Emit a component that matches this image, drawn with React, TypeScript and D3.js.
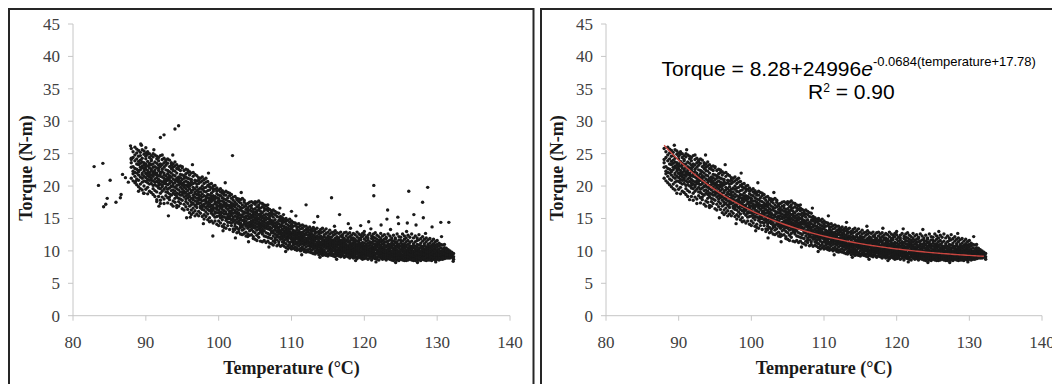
import React from "react";
import * as d3 from "d3";

// ---- Data ----
const xTicks = [80, 90, 100, 110, 120, 130, 140];
const yTicks = [0, 5, 10, 15, 20, 25, 30, 35, 40, 45];

// Fit shown on the right panel: Torque = a + b * e^(c (T + d))
const fitCoef = [8.28, 24996, -0.0684, 17.78];
const fitRange = [88, 132.2];

// Dense band of measurements: [temperature, torque, torque, ...]
const bandRows88: number[][] = [
  [88, 24.1, 21.2, 25.8, 22.9, 23.6],
  [88.25, 20.8, 24.4, 22.3, 25.3, 23.0, 21.9],
  [88.5, 23.9, 22.1, 26.0, 20.5, 24.8, 22.7, 21.5],
  [88.75, 21.1, 25.1, 23.4, 22.0, 24.2, 20.2, 22.6, 25.7],
  [89, 22.4, 24.6, 20.9, 23.3, 25.5, 21.7, 19.9, 23.8, 22.2],
  [89.25, 24.0, 21.4, 22.9, 25.2, 20.3, 23.5, 22.5, 19.6, 24.7],
  [89.5, 21.8, 23.1, 25.6, 22.0, 20.6, 24.3, 23.7, 21.2, 19.4, 22.8],
  [89.75, 23.6, 20.0, 22.3, 24.9, 21.5, 25.4, 22.7, 20.8, 23.2, 18.9],
  [90, 22.0, 24.2, 19.5, 23.4, 21.3, 25.1, 20.7, 22.6, 24.6, 21.9, 23.0],
  [90.25, 21.0, 23.8, 22.4, 19.8, 24.9, 20.5, 23.1, 22.0, 25.3, 21.6, 18.8],
  [90.5, 23.5, 21.4, 19.2, 22.8, 24.4, 20.3, 22.1, 25.0, 21.8, 23.2, 20.9],
  [90.75, 20.4, 22.6, 24.7, 21.2, 23.9, 19.0, 22.3, 20.9, 24.1, 21.7, 23.3],
  [91, 22.9, 20.1, 21.5, 24.5, 19.6, 23.4, 22.2, 18.7, 20.8, 25.0, 21.9],
  [91.25, 21.1, 23.7, 19.3, 22.5, 20.6, 24.8, 21.8, 18.4, 23.0, 22.1, 20.2],
  [91.5, 20.0, 22.8, 21.3, 24.2, 19.1, 23.5, 20.7, 22.0, 17.9, 24.6, 21.7],
  [91.75, 22.4, 19.7, 21.0, 23.9, 20.5, 18.4, 22.7, 24.4, 21.6, 20.1, 23.2],
  [92, 21.5, 18.9, 23.4, 20.3, 22.1, 24.7, 19.6, 21.9, 17.8, 23.0, 20.8],
  [92.25, 19.9, 22.6, 20.6, 24.1, 18.3, 21.4, 23.3, 20.1, 22.2, 24.8, 19.2],
  [92.5, 22.0, 20.4, 18.0, 23.6, 21.2, 19.5, 22.9, 24.3, 20.8, 17.3, 21.7],
  [92.75, 21.0, 23.2, 19.1, 20.3, 22.5, 18.5, 24.0, 21.6, 19.8, 23.7, 20.7],
  [93, 19.5, 21.9, 20.9, 23.5, 18.2, 22.4, 20.2, 17.4, 21.3, 24.2, 19.0],
  [93.25, 21.6, 18.8, 20.4, 23.0, 19.7, 22.2, 17.9, 24.0, 20.9, 21.3, 18.3],
  [93.5, 20.0, 22.7, 18.6, 21.4, 19.3, 23.6, 20.7, 17.2, 22.0, 19.9, 23.2],
  [93.75, 21.1, 19.4, 22.4, 17.7, 20.4, 23.4, 18.9, 21.7, 20.0, 16.9, 22.9],
  [94, 19.2, 21.6, 20.5, 18.1, 23.1, 19.8, 22.3, 17.5, 20.9, 23.7, 18.7],
  [94.25, 20.8, 18.4, 22.0, 19.6, 21.2, 17.0, 23.3, 20.1, 18.9, 22.7, 16.7],
  [94.5, 18.8, 21.4, 20.2, 22.6, 17.6, 19.4, 23.0, 21.0, 18.1, 20.6, 16.9],
  [94.75, 20.3, 18.0, 21.8, 19.1, 22.4, 17.3, 20.7, 23.1, 18.6, 19.8, 21.3],
  [95, 19.0, 21.0, 17.8, 20.4, 22.8, 18.6, 16.5, 21.7, 19.5, 20.1, 23.0],
  [95.25, 20.6, 18.3, 19.8, 21.6, 17.2, 22.4, 18.9, 20.2, 16.3, 21.2, 19.2],
  [95.5, 18.5, 20.1, 21.9, 17.6, 19.6, 22.6, 18.0, 20.8, 16.8, 19.0, 21.4],
  [95.75, 19.9, 17.3, 20.6, 18.7, 22.1, 16.4, 19.3, 21.2, 18.2, 20.2, 22.5],
  [96, 18.4, 20.4, 16.9, 19.6, 21.7, 17.8, 20.0, 15.9, 22.2, 18.9, 21.1],
  [96.25, 19.3, 17.5, 21.0, 18.1, 20.2, 16.3, 22.0, 19.0, 17.1, 20.7, 15.6],
  [96.5, 17.9, 19.8, 18.6, 21.5, 16.6, 20.4, 18.2, 22.1, 17.3, 19.4, 15.9],
  [96.75, 19.0, 17.0, 20.5, 18.3, 21.8, 16.2, 19.6, 17.7, 20.9, 15.4, 18.8],
  [97, 18.1, 19.9, 16.7, 20.8, 17.6, 19.3, 21.6, 15.7, 18.7, 17.2, 20.3],
  [97.25, 19.5, 17.3, 18.6, 20.4, 16.1, 21.3, 17.8, 19.0, 15.4, 20.9, 18.2],
  [97.5, 17.4, 19.1, 20.6, 16.6, 18.5, 21.2, 17.9, 19.7, 15.8, 18.0, 16.9],
  [97.75, 18.8, 16.4, 19.5, 17.7, 20.8, 15.3, 18.3, 20.0, 17.1, 21.4, 16.8],
  [98, 17.2, 19.2, 16.3, 18.5, 20.4, 15.6, 17.8, 19.7, 16.9, 14.9, 21.0],
  [98.25, 18.4, 16.7, 19.8, 17.4, 15.3, 20.6, 18.0, 16.0, 19.1, 17.7, 21.2],
  [98.5, 16.9, 18.7, 17.5, 20.1, 15.7, 19.3, 16.4, 18.2, 14.8, 20.7, 17.1],
  [98.75, 18.1, 16.2, 19.4, 17.3, 20.3, 15.1, 18.6, 16.8, 19.9, 14.5, 17.8],
  [99, 17.0, 18.9, 15.8, 18.0, 19.7, 16.5, 17.6, 14.6, 20.4, 16.1, 18.4],
  [99.25, 17.9, 16.3, 19.2, 15.5, 18.5, 17.1, 20.0, 16.7, 14.3, 18.1, 19.6],
  [99.5, 16.6, 18.4, 17.3, 15.2, 19.5, 16.0, 18.0, 20.1, 14.6, 17.6, 15.8],
  [99.75, 17.5, 15.9, 18.8, 16.4, 14.1, 19.7, 17.0, 15.3, 18.2, 16.7, 19.2],
];

const bandRows100: number[][] = [
  [100, 16.3, 18.1, 15.4, 17.4, 19.4, 14.6, 16.9, 18.6, 15.9, 13.9, 17.8],
  [100.25, 17.2, 15.6, 18.5, 16.6, 14.3, 19.1, 16.0, 17.7, 15.1, 19.6, 16.9],
  [100.5, 15.9, 17.7, 16.4, 18.9, 14.8, 17.1, 15.3, 19.3, 13.8, 16.8, 18.2],
  [100.75, 16.9, 15.2, 18.0, 16.2, 14.1, 17.5, 19.0, 15.7, 17.2, 13.6, 18.6],
  [101, 15.7, 17.3, 16.6, 14.7, 18.6, 15.1, 17.9, 16.0, 19.2, 13.5, 16.9],
  [101.25, 16.4, 14.9, 17.7, 15.6, 18.2, 13.9, 16.9, 15.2, 19.0, 17.1, 14.4],
  [101.5, 15.3, 17.0, 16.1, 18.5, 14.4, 16.6, 15.0, 17.6, 13.3, 18.9, 15.8],
  [101.75, 16.7, 14.8, 17.4, 15.5, 13.9, 18.1, 16.2, 14.3, 17.0, 15.9, 18.7],
  [102, 15.2, 16.9, 14.5, 17.8, 15.8, 13.4, 16.4, 18.3, 14.9, 17.2, 13.0],
  [102.25, 16.2, 14.7, 17.5, 15.4, 13.8, 16.8, 18.4, 14.2, 15.9, 17.1, 13.3],
  [102.5, 14.9, 16.5, 15.7, 17.9, 13.6, 16.0, 14.4, 18.1, 15.2, 12.8, 17.2],
  [102.75, 15.8, 14.2, 16.9, 15.1, 17.6, 13.3, 16.3, 14.6, 18.0, 15.5, 12.9],
  [103, 14.8, 16.3, 15.5, 13.6, 17.4, 14.3, 16.7, 15.0, 12.6, 17.9, 13.9],
  [103.25, 15.6, 14.0, 16.6, 14.7, 13.2, 17.1, 15.3, 18.1, 13.7, 16.1, 12.5],
  [103.5, 14.5, 16.0, 15.2, 17.5, 13.4, 15.8, 14.1, 16.8, 12.7, 17.8, 14.8],
  [103.75, 15.4, 13.8, 16.4, 14.6, 17.2, 12.9, 15.9, 14.2, 16.9, 12.3, 15.1],
  [104, 14.3, 15.8, 13.5, 16.6, 14.9, 12.6, 17.3, 15.4, 13.9, 16.2, 12.2],
  [104.25, 15.2, 13.7, 16.3, 14.4, 17.5, 13.1, 15.7, 14.0, 16.9, 12.4, 15.0],
  [104.5, 14.6, 16.1, 13.3, 15.5, 17.0, 14.2, 12.5, 16.6, 13.8, 15.1, 17.6],
  [104.75, 14.0, 15.7, 13.0, 16.4, 14.8, 12.2, 15.3, 17.4, 13.6, 16.0, 14.4, 11.9],
  [105, 15.1, 13.5, 16.5, 14.3, 12.8, 17.2, 15.6, 13.9, 16.0, 11.8, 14.7, 17.6],
  [105.25, 14.2, 15.8, 13.2, 16.8, 14.9, 12.4, 15.3, 17.5, 13.7, 16.2, 11.6, 14.6],
  [105.5, 15.0, 13.4, 16.3, 14.5, 12.1, 17.1, 15.6, 13.8, 16.7, 14.1, 17.7, 12.7],
  [105.75, 14.3, 15.7, 12.9, 16.1, 13.6, 17.4, 14.8, 11.5, 15.3, 13.2, 16.6, 14.0],
  [106, 13.8, 15.4, 14.6, 12.6, 16.8, 13.3, 15.9, 11.4, 14.2, 17.3, 15.1, 12.9],
  [106.25, 14.7, 13.1, 16.2, 14.0, 15.5, 12.3, 17.1, 13.6, 11.6, 15.0, 16.6, 14.4],
  [106.5, 13.5, 15.2, 14.3, 12.8, 16.4, 13.9, 11.3, 17.0, 15.7, 12.2, 14.8, 16.9],
  [106.75, 14.4, 12.7, 15.6, 13.4, 16.6, 14.1, 11.5, 15.0, 12.1, 16.2, 13.8, 17.1],
  [107, 13.3, 14.9, 12.5, 15.8, 14.2, 11.2, 16.4, 13.7, 15.3, 12.0, 14.6],
  [107.25, 14.1, 12.8, 15.5, 13.5, 16.2, 11.9, 14.7, 13.0, 11.1, 15.9, 14.4],
  [107.5, 13.1, 14.6, 12.3, 15.2, 13.8, 16.3, 11.5, 14.2, 12.8, 15.7, 10.9],
  [107.75, 13.9, 12.6, 14.8, 13.2, 11.3, 15.6, 14.3, 12.0, 16.1, 13.6, 11.7],
  [108, 12.9, 14.4, 13.6, 11.7, 15.3, 12.4, 14.0, 10.8, 15.9, 13.1, 12.2],
  [108.25, 13.6, 12.1, 14.7, 12.9, 11.4, 15.2, 13.3, 11.0, 14.2, 12.6, 15.8],
  [108.5, 12.6, 14.0, 13.1, 15.3, 11.8, 13.7, 12.2, 14.6, 10.7, 12.9, 15.0],
  [108.75, 13.4, 11.9, 14.3, 12.7, 10.9, 13.9, 12.3, 15.1, 11.4, 13.2, 14.7],
  [109, 12.4, 13.8, 11.6, 14.5, 13.0, 10.7, 12.1, 14.9, 13.5, 11.2, 12.8],
  [109.25, 13.2, 11.8, 12.6, 14.2, 11.1, 13.6, 12.2, 15.0, 10.5, 13.0, 14.6],
  [109.5, 12.2, 13.5, 11.5, 14.0, 12.8, 10.8, 13.1, 14.7, 11.9, 12.5, 10.3],
  [109.75, 12.9, 11.3, 13.8, 12.4, 11.0, 14.4, 12.0, 13.3, 10.5, 12.7, 14.9],
];

const bandRows110: number[][] = [
  [110, 12.1, 13.4, 11.4, 12.8, 14.1, 10.7, 12.5, 11.8, 13.7, 10.3, 14.6],
  [110.25, 12.7, 11.2, 13.2, 12.0, 14.4, 10.9, 12.4, 11.6, 13.8, 10.4, 12.9],
  [110.5, 11.8, 13.0, 12.5, 11.1, 13.9, 10.6, 12.2, 14.3, 11.5, 12.8, 10.2],
  [110.75, 12.5, 11.3, 13.3, 11.9, 10.5, 12.8, 14.1, 11.0, 12.2, 13.6, 10.1],
  [111, 11.6, 12.9, 12.2, 10.8, 13.7, 11.3, 12.6, 10.2, 14.2, 11.9, 13.1],
  [111.25, 12.3, 11.0, 13.4, 11.7, 12.8, 10.4, 11.4, 13.9, 12.0, 10.0, 12.6],
  [111.5, 11.5, 12.7, 11.9, 13.5, 10.6, 12.3, 11.1, 14.0, 10.2, 12.9, 11.7],
  [111.75, 12.1, 10.9, 13.1, 11.6, 12.6, 10.3, 13.8, 11.3, 9.9, 12.4, 11.0],
  [112, 11.4, 12.5, 11.9, 10.6, 13.3, 11.1, 12.8, 10.1, 13.8, 11.6, 9.8],
  [112.25, 12.0, 10.8, 12.9, 11.5, 10.2, 13.5, 11.2, 12.4, 9.9, 11.8, 13.1],
  [112.5, 11.3, 12.4, 10.7, 11.8, 13.2, 10.3, 12.1, 11.0, 13.7, 9.8, 12.7],
  [112.75, 11.9, 10.6, 12.6, 11.3, 13.4, 10.1, 11.6, 12.2, 9.7, 13.0, 10.9],
  [113, 11.2, 12.4, 10.3, 11.7, 13.1, 10.9, 9.6, 12.0, 11.4, 13.6, 10.6],
  [113.25, 10.8, 12.7, 11.5, 9.9, 12.2, 11.0, 13.3, 10.4, 11.8, 9.5, 12.9],
  [113.5, 12.0, 10.1, 11.3, 12.9, 10.7, 9.7, 11.9, 13.5, 10.5, 11.1, 12.3],
  [113.75, 11.6, 9.8, 12.6, 10.9, 11.2, 13.0, 10.2, 12.1, 9.4, 11.4, 10.6],
  [114, 10.5, 11.9, 12.8, 9.9, 11.3, 10.8, 13.3, 9.5, 12.3, 11.0, 10.2],
  [114.25, 12.1, 10.7, 11.5, 9.6, 12.9, 10.3, 11.8, 10.0, 13.5, 11.1, 9.3],
  [114.5, 11.0, 12.5, 10.1, 11.7, 9.8, 12.2, 10.6, 13.1, 11.3, 9.4, 10.8],
  [114.75, 10.4, 11.4, 12.7, 9.7, 10.9, 12.0, 11.2, 9.3, 13.4, 10.6, 11.8],
  [115, 11.6, 10.0, 12.3, 10.7, 9.5, 11.2, 12.9, 10.4, 9.2, 11.9, 10.9],
  [115.25, 10.2, 11.8, 9.7, 12.6, 11.0, 10.5, 13.2, 9.4, 11.4, 10.8, 12.1],
  [115.5, 11.3, 9.9, 10.7, 12.1, 9.3, 11.6, 10.3, 12.8, 11.0, 9.6, 10.1],
  [115.75, 10.6, 12.4, 11.1, 9.5, 10.0, 11.7, 9.2, 12.9, 10.4, 11.3, 10.8],
  [116, 11.9, 10.3, 9.6, 11.1, 12.6, 10.7, 9.1, 11.5, 10.0, 13.1, 10.5],
  [116.25, 10.1, 11.4, 12.2, 9.8, 10.6, 9.3, 11.8, 10.9, 12.8, 9.6, 11.2],
  [116.5, 11.5, 9.5, 10.4, 12.0, 10.9, 9.2, 11.2, 12.7, 10.2, 11.7, 9.9],
  [116.75, 10.7, 12.3, 9.4, 11.0, 10.1, 11.6, 9.8, 12.9, 10.5, 9.1, 11.3],
  [117, 9.9, 11.1, 10.5, 12.5, 9.3, 10.8, 11.7, 10.2, 9.6, 12.1, 11.4],
  [117.25, 11.3, 10.0, 9.2, 11.9, 10.6, 12.8, 9.7, 10.3, 11.5, 9.0, 10.9],
  [117.5, 10.4, 11.6, 9.6, 10.9, 12.3, 9.2, 11.1, 10.1, 12.9, 9.8, 10.7],
  [117.75, 9.5, 10.8, 11.4, 10.2, 12.0, 9.1, 10.5, 11.8, 9.8, 12.6, 10.0],
  [118, 11.0, 9.7, 10.6, 12.2, 9.3, 11.5, 10.1, 8.9, 12.8, 10.4, 11.2],
  [118.25, 10.3, 11.7, 9.4, 10.8, 9.9, 12.4, 11.1, 9.1, 10.5, 11.9, 9.7],
  [118.5, 9.8, 11.2, 10.5, 9.2, 12.0, 10.9, 9.5, 11.6, 10.1, 12.7, 8.9],
  [118.75, 10.7, 9.4, 11.4, 10.0, 12.5, 9.0, 10.4, 11.8, 9.7, 11.1, 10.2],
  [119, 11.5, 9.9, 10.3, 9.1, 11.0, 12.2, 9.6, 10.8, 8.8, 12.9, 10.5],
  [119.25, 9.7, 10.9, 11.9, 9.3, 10.2, 11.3, 9.0, 12.6, 10.6, 9.8, 11.6],
  [119.5, 10.4, 9.2, 11.1, 12.4, 9.8, 10.7, 8.9, 11.7, 10.0, 9.5, 12.0],
  [119.75, 11.3, 10.1, 9.4, 10.8, 12.7, 9.0, 11.0, 9.7, 10.4, 12.2, 8.7],
];

const bandRows120: number[][] = [
  [120, 9.6, 10.7, 11.8, 9.2, 10.3, 12.5, 9.9, 11.2, 8.8, 10.5, 13.0],
  [120.25, 10.9, 9.4, 10.1, 11.5, 8.9, 12.1, 10.6, 9.7, 11.0, 9.1, 10.4],
  [120.5, 10.0, 11.2, 9.3, 10.7, 12.4, 9.8, 11.7, 8.7, 10.3, 9.5, 12.0],
  [120.75, 11.4, 9.6, 10.5, 9.1, 10.9, 12.7, 9.9, 11.1, 8.9, 10.2, 9.4],
  [121, 9.7, 10.4, 11.9, 9.0, 10.8, 9.4, 12.3, 10.1, 11.3, 8.6, 9.9],
  [121.25, 10.6, 9.2, 11.1, 9.8, 12.6, 10.3, 8.9, 11.6, 9.5, 10.0, 12.1],
  [121.5, 9.4, 11.5, 10.2, 8.8, 10.7, 9.6, 12.0, 9.1, 11.0, 10.4, 12.8],
  [121.75, 10.9, 9.7, 9.0, 11.3, 10.1, 12.4, 9.5, 10.6, 8.7, 11.8, 9.9],
  [122, 9.3, 10.5, 11.6, 9.8, 8.6, 10.9, 12.2, 9.1, 10.2, 11.2, 9.6],
  [122.25, 10.7, 9.4, 10.0, 12.7, 8.9, 11.4, 9.7, 10.4, 9.2, 11.9, 10.9],
  [122.5, 9.8, 11.1, 8.7, 10.3, 9.5, 12.3, 10.6, 9.0, 11.6, 9.3, 10.1],
  [122.75, 10.5, 9.1, 11.8, 9.6, 10.9, 8.8, 10.2, 12.5, 9.4, 11.3, 9.9],
  [123, 9.2, 10.6, 9.7, 11.4, 8.6, 10.1, 12.1, 9.4, 10.8, 8.9, 11.9],
  [123.25, 10.3, 9.5, 11.1, 8.8, 10.7, 9.1, 12.6, 9.8, 11.5, 10.0, 9.3],
  [123.5, 9.6, 11.0, 8.7, 10.4, 9.2, 11.7, 10.1, 8.9, 12.3, 9.7, 10.6],
  [123.75, 10.8, 9.3, 10.0, 12.0, 9.0, 11.2, 8.6, 10.5, 9.6, 11.6, 9.9],
  [124, 9.1, 10.4, 11.5, 9.7, 8.8, 10.9, 9.4, 12.4, 10.1, 8.5, 11.0],
  [124.25, 10.2, 9.0, 9.6, 11.3, 10.7, 8.7, 12.0, 9.3, 10.4, 11.8, 9.8],
  [124.5, 9.5, 10.9, 8.6, 10.1, 12.6, 9.2, 11.4, 9.8, 8.9, 10.6, 11.1],
  [124.75, 10.4, 9.3, 11.7, 8.8, 9.9, 10.8, 9.0, 12.2, 9.6, 11.0, 8.5],
  [125, 9.0, 10.2, 11.2, 9.6, 8.7, 10.7, 12.1, 9.3, 10.0, 11.6, 8.9],
  [125.25, 10.5, 8.8, 9.4, 11.0, 9.9, 12.6, 8.6, 10.3, 9.1, 11.5, 10.8],
  [125.5, 9.3, 10.7, 8.9, 10.0, 11.8, 9.6, 8.5, 11.1, 9.8, 10.4, 12.3],
  [125.75, 10.1, 9.0, 11.4, 8.7, 9.7, 10.6, 12.0, 9.2, 10.9, 8.5, 9.5],
  [126, 8.8, 9.9, 11.0, 9.4, 10.5, 8.6, 12.4, 9.1, 10.2, 11.6, 9.7],
  [126.25, 10.3, 9.2, 8.7, 10.8, 9.6, 11.3, 8.9, 10.0, 12.1, 9.4, 10.6],
  [126.5, 9.5, 10.4, 8.6, 11.5, 9.0, 10.1, 9.8, 12.6, 8.8, 10.7, 9.3],
  [126.75, 10.0, 8.9, 9.6, 11.1, 10.5, 8.5, 9.2, 12.0, 9.9, 10.8, 8.7],
  [127, 9.1, 10.3, 8.7, 9.8, 11.4, 9.4, 10.7, 8.5, 12.3, 9.6, 10.0],
  [127.25, 9.9, 8.8, 10.6, 9.3, 8.6, 11.0, 9.7, 12.0, 10.2, 9.0, 11.6],
  [127.5, 9.4, 10.1, 8.6, 10.9, 9.1, 11.7, 8.9, 9.8, 10.4, 12.5, 9.6],
  [127.75, 10.5, 9.2, 8.8, 9.7, 11.2, 8.5, 10.0, 9.5, 11.9, 10.8, 9.0],
  [128, 9.0, 9.9, 10.7, 8.7, 9.4, 11.5, 10.2, 8.9, 12.2, 9.6, 10.5],
  [128.25, 9.8, 8.6, 10.3, 9.2, 11.1, 9.6, 8.8, 10.8, 9.4, 11.8, 10.0],
  [128.5, 9.3, 10.6, 8.9, 9.7, 8.5, 11.4, 10.1, 9.1, 12.0, 9.9, 10.4],
  [128.75, 10.2, 9.0, 9.5, 11.0, 8.7, 10.5, 9.8, 11.7, 9.2, 8.6, 10.8],
  [129, 8.9, 9.6, 10.4, 9.2, 11.2, 8.6, 10.0, 9.4, 11.9, 9.8, 10.7],
  [129.25, 9.7, 10.9, 8.8, 9.3, 10.2, 9.0, 11.5, 9.9, 8.5, 10.6, 9.5],
  [129.5, 9.2, 10.0, 8.7, 10.7, 9.5, 11.1, 8.9, 9.8, 10.3, 11.8],
  [129.75, 10.1, 8.8, 9.4, 11.4, 9.0, 10.5, 9.7, 8.6, 10.9, 9.3],
  [130, 9.0, 9.8, 10.6, 8.7, 9.3, 11.0, 9.6, 10.2, 8.9, 11.6],
  [130.25, 9.5, 8.8, 10.3, 9.2, 10.8, 9.9, 8.6, 11.2, 9.4],
  [130.5, 9.7, 9.1, 10.0, 8.7, 10.5, 9.4, 11.0, 8.9, 9.8],
  [130.75, 9.2, 10.3, 8.9, 9.6, 10.9, 9.0, 9.9, 8.7],
  [131, 9.8, 9.0, 10.5, 9.4, 8.8, 10.1, 9.6, 11.0],
  [131.25, 9.1, 9.9, 8.9, 10.4, 9.5, 10.0, 9.3],
  [131.5, 9.6, 9.0, 10.2, 9.3, 8.9, 9.8],
  [131.75, 9.2, 9.7, 10.0, 8.9, 9.4],
  [132, 9.5, 9.0, 9.8, 9.3],
  [132.25, 9.1, 9.6, 8.7],
];

// Scattered points along the band edges (both panels)
const edgeTemps = [
  95.6, 97.9, 100.6, 102.3, 104.1, 106.9, 109.2, 111.4, 113.9, 116.2, 118.8, 121.6,
  124.3, 127.3, 129.8, 96.4, 98.6, 100.9, 103.1, 108.4, 110.6, 113.1, 115.9, 118.1,
  120.9, 123.6, 125.8, 128.4, 130.6, 93.7, 91.1, 89.4,
];
const edgeTorques = [
  15.1, 14.2, 13.1, 12.0, 11.4, 10.6, 9.9, 9.4, 9.0, 8.7, 8.5, 8.3,
  8.2, 8.2, 8.3, 23.3, 22.0, 20.5, 19.0, 16.6, 15.4, 14.4, 13.8, 13.5,
  13.4, 13.3, 13.0, 12.7, 12.2, 24.8, 25.6, 26.3,
];

// Extra raw points only present in the left (unfiltered) panel
const leftOutlierTemps = [
  82.9, 84.1, 83.5, 85.1, 84.7, 84.2, 84.5, 85.9, 86.5, 86.6, 86.8, 87.2, 87.6,
  87.9, 88.0, 89.3, 90.0, 92.0, 92.5, 94.0, 94.5, 101.9, 89.0, 89.7, 91.5, 92.0,
  93.1, 99.2, 96.1, 108.9, 110.0, 112.0, 113.6, 115.5, 116.6, 121.3, 121.3, 126.1,
  128.7, 128.0, 123.2, 123.1, 124.6, 124.7, 125.9, 128.1, 130.5, 131.6, 132.2,
  117.8, 119.5, 120.6, 122.3, 127.1, 129.3, 126.8, 91.8, 88.6,
];
const leftOutlierTorques = [
  23.0, 23.5, 20.1, 20.9, 18.1, 16.8, 17.2, 17.5, 18.2, 18.7, 21.8, 21.3, 20.6,
  26.2, 24.3, 26.5, 25.9, 27.5, 27.9, 28.8, 29.3, 24.7, 19.2, 18.9, 17.6, 17.3,
  15.4, 12.3, 15.2, 15.6, 16.1, 17.1, 15.3, 18.2, 15.6, 20.1, 18.5, 19.2,
  19.8, 17.5, 16.3, 14.9, 15.2, 14.2, 14.3, 15.1, 14.4, 14.4, 8.4,
  14.2, 13.9, 14.5, 14.0, 14.0, 13.7, 15.6, 16.9, 20.7,
];

// ---- Layout ----
const W = 1052;
const H = 384;
const yTop = 24;
const yBottom = 315.7;
const panels = [
  { frameX: 9, frameW: 524.5, axisX0: 73, axisX1: 510, labelX: 60, titleX: 32, raw: true },
  { frameX: 541, frameW: 520, axisX0: 606, axisX1: 1042, labelX: 593, titleX: 563, raw: false },
];

const bandRows = [...bandRows88, ...bandRows100, ...bandRows110, ...bandRows120];
const bandPoints: [number, number][] = [];
bandRows.forEach((row) => {
  for (let i = 1; i < row.length; i++) bandPoints.push([row[0], row[i]]);
});
edgeTemps.forEach((t, i) => bandPoints.push([t, edgeTorques[i]]));
const outlierPoints: [number, number][] = leftOutlierTemps.map((t, i) => [t, leftOutlierTorques[i]]);

const fit = (t: number) => fitCoef[0] + fitCoef[1] * Math.exp(fitCoef[2] * (t + fitCoef[3]));

const serif = "'Liberation Serif', 'Times New Roman', serif";
const sans = "'Liberation Sans', Arial, sans-serif";
const axisColor = "#c6c6c6";
const textColor = "#404040";
const dotColor = "#1a1a1a";

function Panel({ p }: { p: (typeof panels)[number] }) {
  const x = d3.scaleLinear().domain([80, 140]).range([p.axisX0, p.axisX1]);
  const y = d3.scaleLinear().domain([0, 45]).range([yBottom, yTop]);
  const pts = p.raw ? [...bandPoints, ...outlierPoints] : bandPoints;
  const fitT = d3.range(fitRange[0], fitRange[1] + 0.001, 0.4);
  const line = d3
    .line<number>()
    .x((t) => x(t))
    .y((t) => y(fit(t)))
    .curve(d3.curveMonotoneX);
  const centerX = (p.axisX0 + p.axisX1) / 2;
  return (
    <g>
      <rect x={p.frameX} y={9} width={p.frameW} height={H + 10} fill="none" stroke="#262626" strokeWidth={2} />
      <line x1={p.axisX0} x2={p.axisX0} y1={yTop} y2={yBottom} stroke={axisColor} strokeWidth={1} />
      <line x1={p.axisX0} x2={p.axisX1} y1={yBottom} y2={yBottom} stroke={axisColor} strokeWidth={1} />
      {yTicks.map((v) => (
        <g key={"y" + v}>
          <line x1={p.axisX0 - 5} x2={p.axisX0} y1={y(v)} y2={y(v)} stroke={axisColor} />
          <text x={p.labelX} y={y(v)} dy="0.35em" textAnchor="end" fontFamily={serif} fontSize={17} fill={textColor}>
            {v}
          </text>
        </g>
      ))}
      {xTicks.map((v) => (
        <g key={"x" + v}>
          <line x1={x(v)} x2={x(v)} y1={yBottom} y2={yBottom + 5} stroke={axisColor} />
          <text x={x(v)} y={348} textAnchor="middle" fontFamily={serif} fontSize={17} fill={textColor}>
            {v}
          </text>
        </g>
      ))}
      <text x={centerX} y={374} textAnchor="middle" fontFamily={serif} fontSize={18} fontWeight="bold" fill="#1a1a1a">
        Temperature (°C)
      </text>
      <text
        transform={`translate(${p.titleX},${168}) rotate(-90)`}
        textAnchor="middle"
        fontFamily={serif}
        fontSize={18}
        fontWeight="bold"
        fill="#1a1a1a"
      >
        Torque (N-m)
      </text>
      {pts.map((d, i) => (
        <circle key={i} cx={x(d[0])} cy={y(d[1])} r={1.7} fill={dotColor} />
      ))}
      {!p.raw && <path d={line(fitT) || ""} fill="none" stroke="#c8453f" strokeWidth={1.4} />}
      {!p.raw && (
        <g fontFamily={sans} fill="#000">
          <text x={661.5} y={76} fontSize={21}>
            Torque = 8.28+24996
            <tspan fontStyle="italic">e</tspan>
            <tspan fontSize={13} dy={-10}>
              -0.0684(temperature+17.78)
            </tspan>
          </text>
          <text x={808} y={99} fontSize={21}>
            R<tspan fontSize={12} dy={-7}>2</tspan>
            <tspan dy={7}> = 0.90</tspan>
          </text>
        </g>
      )}
    </g>
  );
}

export default function App() {
  return (
    <svg
      width={W}
      height={H}
      viewBox={`0 0 ${W} ${H}`}
      style={{ position: "absolute", left: 0, top: 0, background: "#fff" }}
    >
      <rect x={0} y={0} width={W} height={H} fill="#fff" />
      {panels.map((p, i) => (
        <Panel key={i} p={p} />
      ))}
    </svg>
  );
}
